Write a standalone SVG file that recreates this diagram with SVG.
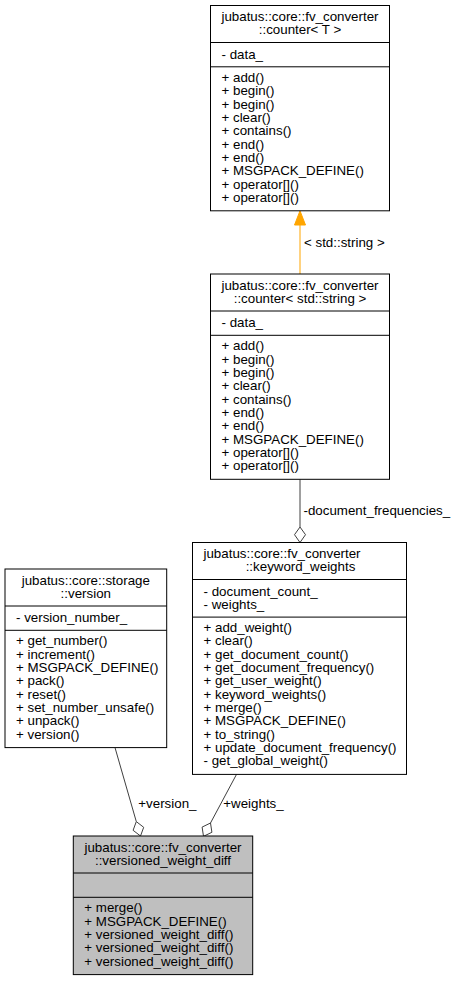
<svg xmlns="http://www.w3.org/2000/svg" width="456" height="981" viewBox="0 0 456 981">
<style>
text{font-family:"Liberation Sans",Arial,Helvetica,sans-serif;font-size:13.33px;fill:#000}
.c{text-anchor:middle}
.box{fill:#fff;stroke:#000;stroke-width:1}
.cur{fill:#bfbfbf;stroke:#000;stroke-width:1}
.sep{stroke:#000;stroke-width:1}
.agg{stroke:#404040;stroke-width:1;fill:none}
.dia{stroke:#404040;stroke-width:1;fill:#fff}
.inh{stroke:#ffa500;stroke-width:1;fill:none}
</style>
<rect width="456" height="981" fill="#fff"/>
<g id="connectors">
<line class="inh" x1="300" y1="274" x2="300" y2="224"/>
<polygon points="300,210.8 305.5,225 294.5,225" fill="#ffa500" stroke="#ffa500"/>
<text x="304" y="247">&lt; std::string &gt;</text>
<line class="agg" x1="300" y1="479.3" x2="300" y2="527"/>
<polygon class="dia" points="300,527 305.5,534.7 300,542.5 294.5,534.7"/>
<text x="303.5" y="514.5">-document_frequencies_</text>
<line class="agg" x1="115" y1="747.6" x2="136.3" y2="821.6"/>
<polygon class="dia" points="136.3,821.6 143.7,827.3 140.5,836 133.1,830.3"/>
<text x="138.3" y="808.3">+version_</text>
<line class="agg" x1="236.5" y1="774.4" x2="210.5" y2="823"/>
<polygon class="dia" points="210.5,823 211.9,832.3 203.5,836.3 202.1,827.1"/>
<text x="223.3" y="808.3">+weights_</text>
</g>
<g id="counter_T">
<rect class="box" x="210.5" y="5.5" width="179" height="205.3"/>
<line class="sep" x1="210.5" y1="42.5" x2="389.5" y2="42.5"/>
<line class="sep" x1="210.5" y1="66.8" x2="389.5" y2="66.8"/>
<text class="c" x="300" y="21">jubatus::core::fv_converter</text>
<text class="c" x="300" y="34.2">::counter&lt; T &gt;</text>
<text x="221.5" y="58.8">- data_</text>
<text x="221.5" y="81.8">+ add()</text>
<text x="221.5" y="95.1">+ begin()</text>
<text x="221.5" y="108.5">+ begin()</text>
<text x="221.5" y="121.8">+ clear()</text>
<text x="221.5" y="135.1">+ contains()</text>
<text x="221.5" y="148.5">+ end()</text>
<text x="221.5" y="161.8">+ end()</text>
<text x="221.5" y="175.1">+ MSGPACK_DEFINE()</text>
<text x="221.5" y="188.5">+ operator[]()</text>
<text x="221.5" y="201.8">+ operator[]()</text>
</g>
<g id="counter_string">
<rect class="box" x="210.5" y="274" width="179" height="205.3"/>
<line class="sep" x1="210.5" y1="311" x2="389.5" y2="311"/>
<line class="sep" x1="210.5" y1="335.3" x2="389.5" y2="335.3"/>
<text class="c" x="300" y="289.5">jubatus::core::fv_converter</text>
<text class="c" x="300" y="302.7">::counter&lt; std::string &gt;</text>
<text x="221.5" y="327.3">- data_</text>
<text x="221.5" y="350.3">+ add()</text>
<text x="221.5" y="363.6">+ begin()</text>
<text x="221.5" y="377">+ begin()</text>
<text x="221.5" y="390.3">+ clear()</text>
<text x="221.5" y="403.6">+ contains()</text>
<text x="221.5" y="417">+ end()</text>
<text x="221.5" y="430.3">+ end()</text>
<text x="221.5" y="443.6">+ MSGPACK_DEFINE()</text>
<text x="221.5" y="457">+ operator[]()</text>
<text x="221.5" y="470.3">+ operator[]()</text>
</g>
<g id="keyword_weights">
<rect class="box" x="192.5" y="542.5" width="214" height="231.9"/>
<line class="sep" x1="192.5" y1="579.5" x2="406.5" y2="579.5"/>
<line class="sep" x1="192.5" y1="617.1" x2="406.5" y2="617.1"/>
<text x="203.5" y="558">jubatus::core::fv_converter</text>
<text class="c" x="300.5" y="571.2">::keyword_weights</text>
<text x="203.5" y="595.8">- document_count_</text>
<text x="203.5" y="609.1">- weights_</text>
<text x="203.5" y="632.1">+ add_weight()</text>
<text x="203.5" y="645.4">+ clear()</text>
<text x="203.5" y="658.8">+ get_document_count()</text>
<text x="203.5" y="672.1">+ get_document_frequency()</text>
<text x="203.5" y="685.4">+ get_user_weight()</text>
<text x="203.5" y="698.8">+ keyword_weights()</text>
<text x="203.5" y="712.1">+ merge()</text>
<text x="203.5" y="725.4">+ MSGPACK_DEFINE()</text>
<text x="203.5" y="738.8">+ to_string()</text>
<text x="203.5" y="752.1">+ update_document_frequency()</text>
<text x="203.5" y="765.4">- get_global_weight()</text>
</g>
<g id="version">
<rect class="box" x="5" y="569" width="161.7" height="178.6"/>
<line class="sep" x1="5" y1="606" x2="166.7" y2="606"/>
<line class="sep" x1="5" y1="630.3" x2="166.7" y2="630.3"/>
<text class="c" x="85.8" y="584.5">jubatus::core::storage</text>
<text class="c" x="85.8" y="597.7">::version</text>
<text x="16" y="622.3">- version_number_</text>
<text x="16" y="645.3">+ get_number()</text>
<text x="16" y="658.6">+ increment()</text>
<text x="16" y="672">+ MSGPACK_DEFINE()</text>
<text x="16" y="685.3">+ pack()</text>
<text x="16" y="698.6">+ reset()</text>
<text x="16" y="712">+ set_number_unsafe()</text>
<text x="16" y="725.3">+ unpack()</text>
<text x="16" y="738.6">+ version()</text>
</g>
<g id="versioned_weight_diff">
<rect class="cur" x="73.3" y="836" width="179.4" height="138.6"/>
<line class="sep" x1="73.3" y1="873" x2="252.7" y2="873"/>
<line class="sep" x1="73.3" y1="897.3" x2="252.7" y2="897.3"/>
<text class="c" x="163" y="851.5">jubatus::core::fv_converter</text>
<text class="c" x="163" y="864.7">::versioned_weight_diff</text>
<text x="84.3" y="912.3">+ merge()</text>
<text x="84.3" y="925.6">+ MSGPACK_DEFINE()</text>
<text x="84.3" y="939">+ versioned_weight_diff()</text>
<text x="84.3" y="952.3">+ versioned_weight_diff()</text>
<text x="84.3" y="965.6">+ versioned_weight_diff()</text>
</g>
</svg>
